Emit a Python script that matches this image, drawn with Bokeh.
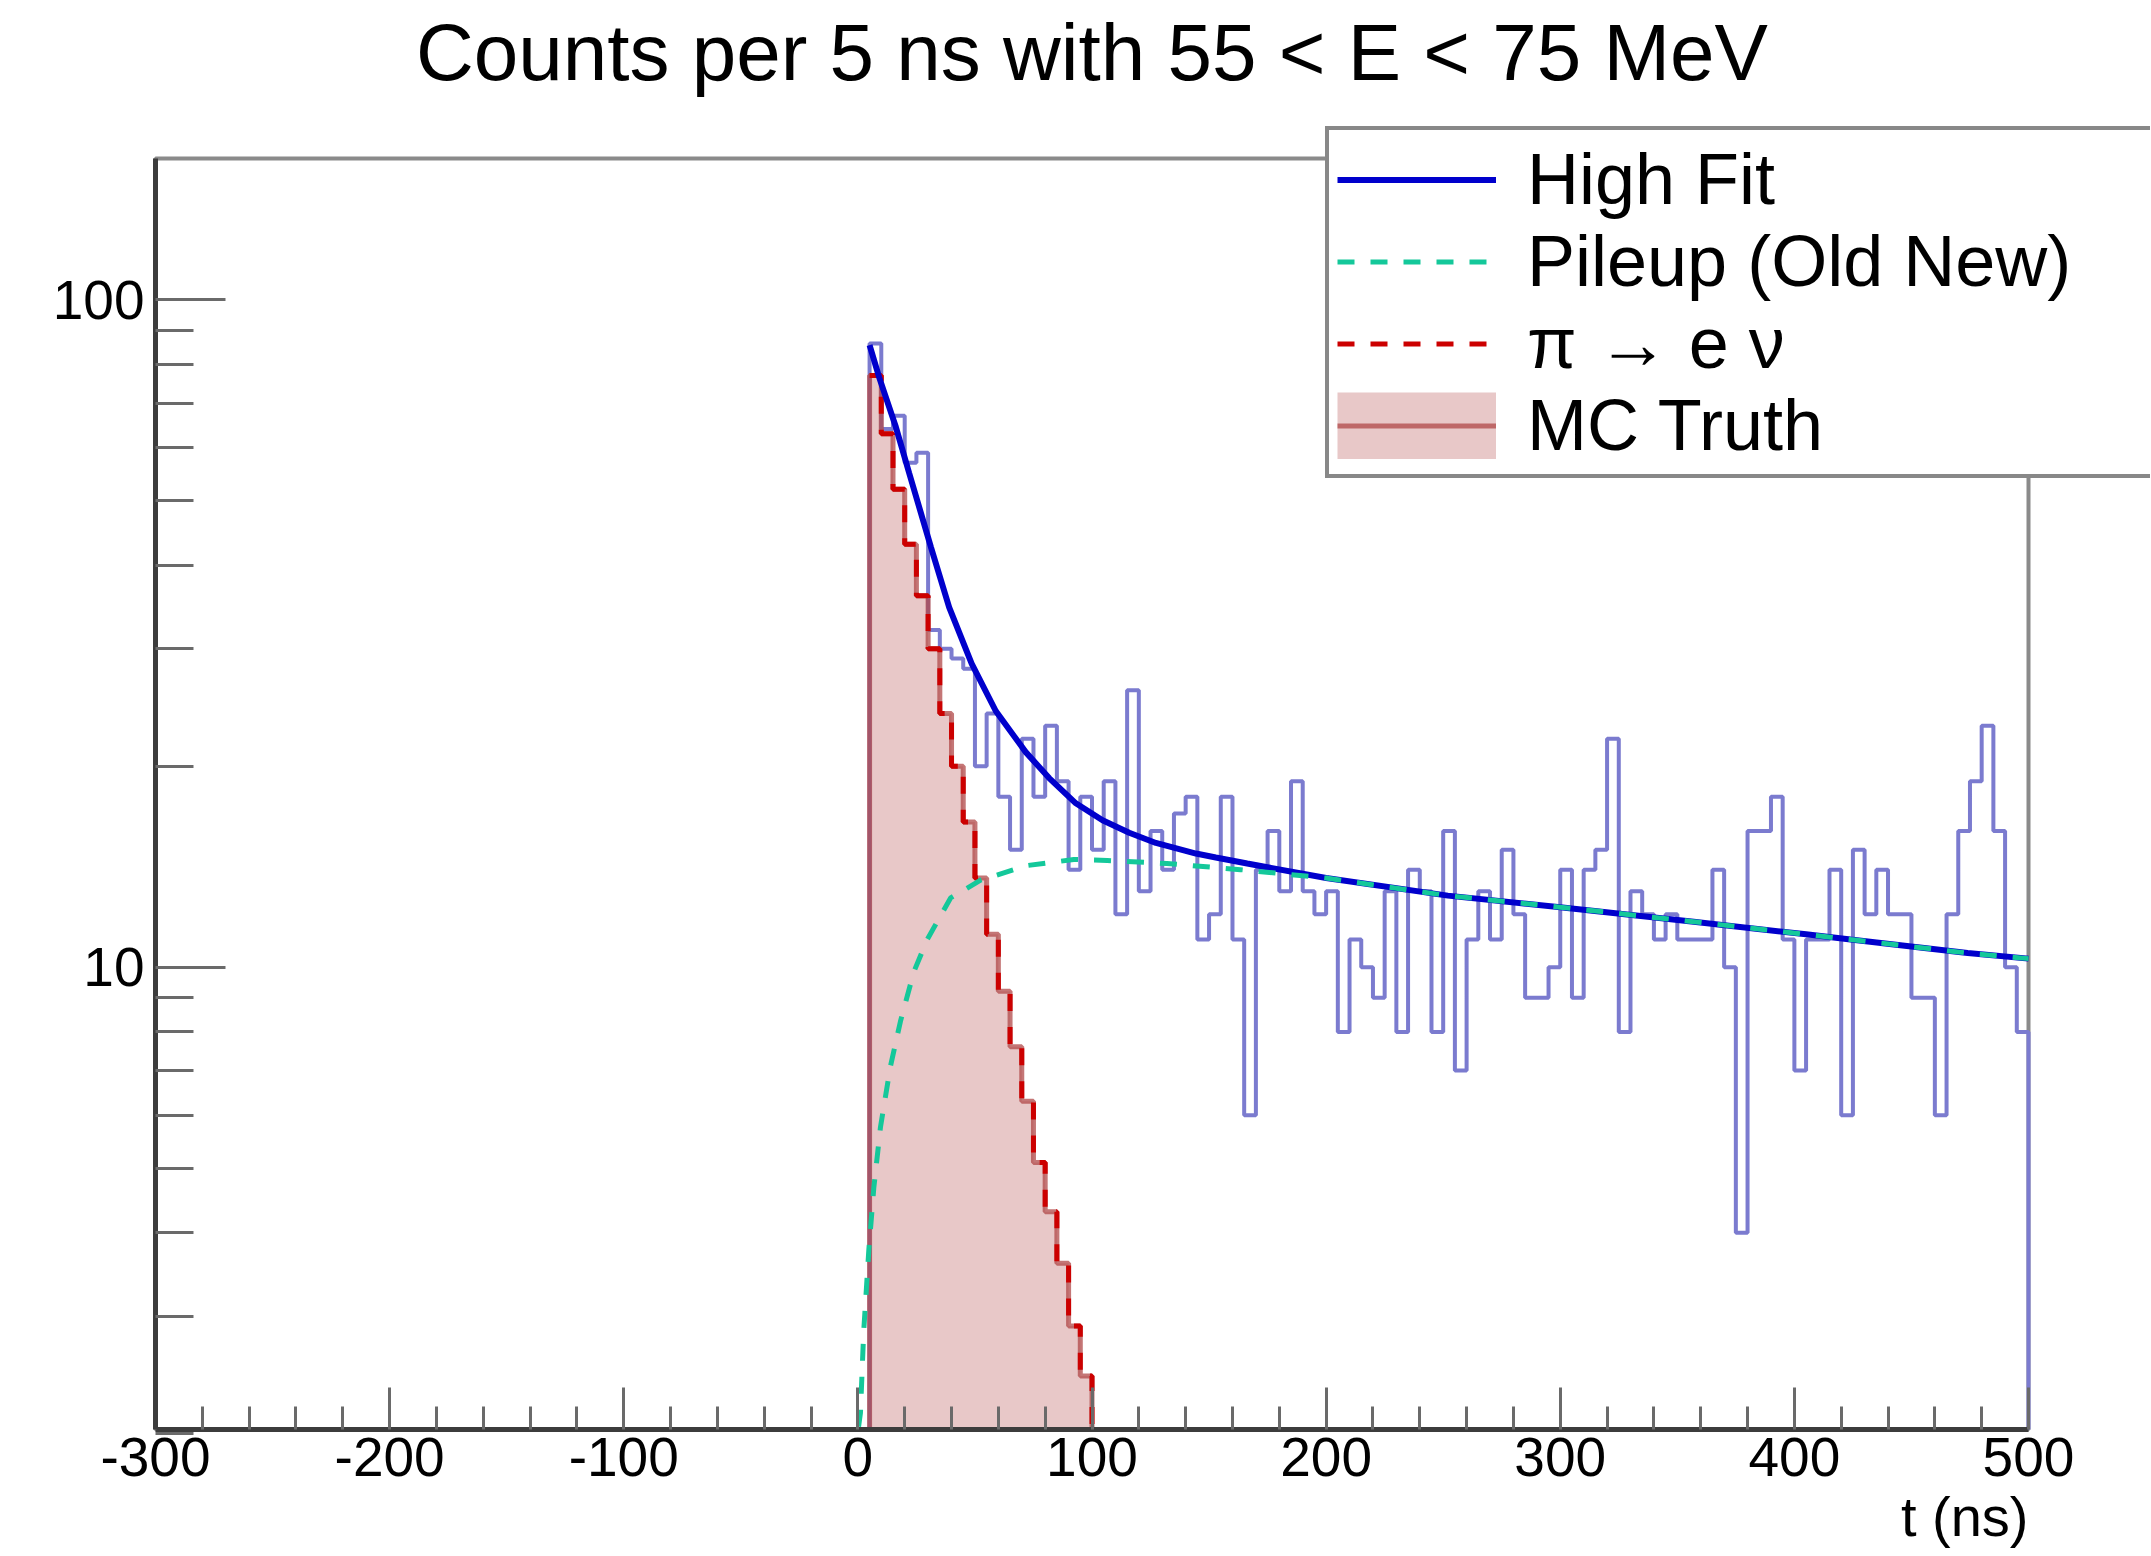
import numpy as np
from bokeh.plotting import figure
from bokeh.models import (Range1d, FixedTicker, Legend, LegendItem, Label,
                          BasicTickFormatter, BoxAnnotation)
from bokeh.embed import file_html
from bokeh.resources import INLINE

# ---------------- data ----------------
title_text = "Counts per 5 ns with 55 < E < 75 MeV"
x_label = "t (ns)"
bin_width = 5.0

# data histogram: bins of 5 ns starting at t = 5 ns
hist_start = 5.0
counts = [86, 64, 67, 57, 59, 32, 30, 29, 28, 20,
          24, 18, 15, 22, 18, 23, 19, 14, 18, 15,
          19, 12, 26, 13, 16, 14, 17, 18, 11, 12,
          18, 11, 6, 14, 16, 13, 19, 13, 12, 13,
          8, 11, 10, 9, 13, 8, 14, 13, 8, 16,
          7, 11, 13, 11, 15, 12, 9, 9, 10, 14,
          9, 14, 15, 22, 8, 13, 12, 11, 12, 11,
          11, 11, 14, 10, 4, 16, 16, 18, 11, 7,
          11, 11, 14, 6, 15, 12, 14, 12, 12, 9,
          9, 6, 12, 16, 19, 23, 16, 10, 8]

# MC truth histogram (5 ns bins from t = 5 ns)
mc_start = 5.0
mc_truth = [77, 63, 52, 43, 36, 30, 24, 20, 16.5, 13.6,
            11.2, 9.2, 7.6, 6.3, 5.1, 4.3, 3.6, 2.9, 2.44]

# pi -> e nu component of the fit (follows the MC template)
pienu_fit = [77, 63, 52, 43, 36, 30, 24, 20, 16.5, 13.6,
             11.2, 9.2, 7.6, 6.3, 5.1, 4.3, 3.6, 2.9, 2.44]

# High fit curve
fit_t = [5, 9.1, 16.2, 21.9, 31.2, 39.0, 48.6, 58.9, 71.7, 81.7, 93.1, 104.5,
         115.9, 127.3, 144.4, 152.9, 166.3, 200, 252, 300, 357, 405, 424, 474, 500]
fit_y = [85.5, 76.5, 64.5, 55.0, 42.6, 34.6, 28.5, 24.2, 21.0, 19.2, 17.6, 16.6,
         15.9, 15.35, 14.8, 14.6, 14.3, 13.6, 12.8, 12.3, 11.7, 11.2, 11.0, 10.5, 10.3]

# Pileup curve
pileup_t = [0.3, 1.1, 2.5, 4.7, 6.8, 9.65, 13.9, 18.2, 23.9, 29.6, 39.6, 52.4,
            72.3, 92.2, 106.5, 132, 163.4, 200, 252, 300, 357, 405, 424, 474, 500]
pileup_y = [2.05, 2.15, 2.85, 3.78, 4.67, 5.76, 7.1, 8.3, 9.84, 11.0, 12.7, 13.5,
            14.2, 14.5, 14.45, 14.3, 14.0, 13.6, 12.8, 12.3, 11.7, 11.2, 11.0, 10.5, 10.3]

x_ticks = [-300, -200, -100, 0, 100, 200, 300, 400, 500]
y_ticks = [10, 100]
y_labels = {10: "10", 100: "100"}
x_min, x_max = -300, 500

# ---------------- layout (pixels of the picture) ----------------
W, H = 2150, 1550
AX_LEFT, AX_RIGHT = 155, 2028          # pixel of x_min / x_max
PIX_10, PIX_100 = 966.7, 299.2         # pixel rows of y = 10 and y = 100
AX_TOP, AX_BOTTOM = 158, 1429          # visible frame top / bottom rows

px_per_ns = (AX_RIGHT - AX_LEFT) / (x_max - x_min)
px_per_dec = PIX_10 - PIX_100
y_min = 10 ** (1 - (AX_BOTTOM - PIX_10) / px_per_dec)
y_max = 10 ** (2 + (PIX_100 - AX_TOP) / px_per_dec)
xr = Range1d(x_min - AX_LEFT / px_per_ns, x_max + (W - AX_RIGHT) / px_per_ns)
yr = Range1d(10 ** (1 - (H - PIX_10) / px_per_dec), 10 ** (2 + PIX_100 / px_per_dec))

BASE = y_min


def step_outline(start, width, vals):
    vals = np.asarray(vals, dtype=float)
    edges = start + width * np.arange(len(vals) + 1)
    xs = np.repeat(edges, 2)
    ys = np.concatenate([[BASE], np.repeat(vals, 2), [BASE]])
    return xs, ys


FONT = "Liberation Sans"

p = figure(width=W, height=H, x_range=xr, y_range=yr, title=None,
           y_axis_type="log", output_backend="svg", toolbar_location=None,
           min_border_left=0, min_border_right=0,
           min_border_top=0, min_border_bottom=0)
p.background_fill_color = "white"
p.border_fill_color = "white"
p.xgrid.grid_line_color = None
p.ygrid.grid_line_color = None
p.outline_line_color = None

# visible frame (grey top / right lines)
frame_box = BoxAnnotation(left=x_min, right=x_max, bottom=y_min, top=y_max,
                          fill_alpha=0, line_color="#8a8a8a", line_alpha=1.0,
                          line_width=4, level="underlay")
p.add_layout(frame_box)

# MC truth (filled)
mx, my = step_outline(mc_start, bin_width, mc_truth)
r_mc_fill = p.patch(mx, my, fill_color="#e8c8c8", line_color=None)
# legend swatch for the filled MC area (no visible points)
r_mc_box = p.line(x=[np.nan], y=[np.nan], line_color="#e8c8c8", line_width=67)

# data histogram
hx, hy = step_outline(hist_start, bin_width, counts)
r_hist = p.line(hx, hy, line_color="#7b7bcf", line_width=4)

# MC outline (semi-transparent, over the data outline)
r_mc_line = p.line(mx, my, line_color="#b04848", line_alpha=0.75, line_width=5)

# pi -> e nu
px_, py_ = step_outline(mc_start, bin_width, pienu_fit)
r_pienu = p.line(px_[1:], py_[1:], line_color="#cc0000", line_width=5, line_dash="17 16")

# fit and pileup
r_fit = p.line(fit_t, fit_y, line_color="#0000cc", line_width=6)
r_pile = p.line(pileup_t, pileup_y, line_color="#14c89a", line_width=5, line_dash="17 16")

# ---------------- axes ----------------
x_minor = [t for t in range(x_min, x_max + 1, 20) if t % 100 != 0]
y_minor = [m * d for d in (1, 10) for m in range(2, 10)]

ax = p.xaxis[0]
ax.fixed_location = y_min
ax.bounds = (x_min, x_max)
ax.ticker = FixedTicker(ticks=x_ticks, minor_ticks=x_minor)
ax.major_label_overrides = {t: str(t) for t in x_ticks}
ax.axis_line_color = "#3c3c3c"
ax.axis_line_width = 5
ax.major_tick_in = 42
ax.major_tick_out = 0
ax.minor_tick_in = 23
ax.minor_tick_out = 0
ax.major_tick_line_color = "#6a6a6a"
ax.major_tick_line_width = 3
ax.minor_tick_line_color = "#6a6a6a"
ax.minor_tick_line_width = 3
ax.major_label_text_font = FONT
ax.major_label_text_font_size = "55px"
ax.major_label_text_color = "black"
ax.major_label_standoff = 8

ay = p.yaxis[0]
ay.fixed_location = x_min
ay.bounds = (y_min, y_max)
ay.ticker = FixedTicker(ticks=y_ticks, minor_ticks=y_minor)
ay.formatter = BasicTickFormatter()
ay.major_label_overrides = y_labels
ay.axis_line_color = "#3c3c3c"
ay.axis_line_width = 5
ay.major_tick_in = 70
ay.major_tick_out = 0
ay.minor_tick_in = 38
ay.minor_tick_out = 0
ay.major_tick_line_color = "#6a6a6a"
ay.major_tick_line_width = 3
ay.minor_tick_line_color = "#6a6a6a"
ay.minor_tick_line_width = 3
ay.major_label_text_font = FONT
ay.major_label_text_font_size = "55px"
ay.major_label_text_color = "black"
ay.major_label_standoff = 11

# ---------------- texts ----------------
title = Label(x=(x_min + x_max) / 2, y=H - 52, x_units="data", y_units="screen",
              text=title_text, text_align="center", text_baseline="middle",
              text_font=FONT, text_font_size="80px", text_color="black")
p.add_layout(title)

xlab = Label(x=x_max, y=H - 1516, x_units="data", y_units="screen",
             text=x_label, text_align="right", text_baseline="middle",
             text_font=FONT, text_font_size="56px", text_color="black")
p.add_layout(xlab)

# ---------------- legend ----------------
legend = Legend(items=[
    LegendItem(label="High Fit", renderers=[r_fit]),
    LegendItem(label="Pileup (Old New)", renderers=[r_pile]),
    LegendItem(label="\u03c0 \u2192 e \u03bd", renderers=[r_pienu]),
    LegendItem(label="MC Truth", renderers=[r_mc_box, r_mc_line]),
], location=(1325, H - 478))
legend.label_text_font = FONT
legend.label_text_font_size = "72px"
legend.label_text_color = "black"
legend.glyph_width = 159
legend.glyph_height = 67
legend.label_height = 80
legend.label_width = 615
legend.label_standoff = 31
legend.padding = 8
legend.spacing = 0
legend.margin = 0
legend.border_line_color = "#888888"
legend.border_line_alpha = 1.0
legend.border_line_width = 4
legend.background_fill_color = "white"
legend.background_fill_alpha = 1.0
p.add_layout(legend)

open("out.html", "w").write(file_html(p, INLINE))
